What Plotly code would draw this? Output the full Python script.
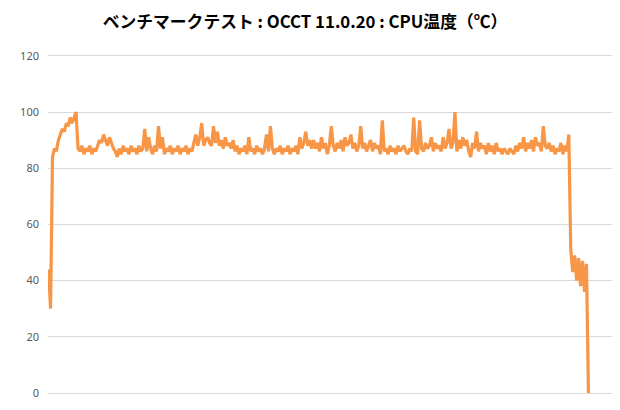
import plotly.graph_objects as go

# CPU temperature samples (deg C), one sample per step
startup = [44, 30, 84, 87, 86, 90, 92, 94, 93, 96, 95, 98, 96, 98, 100]
load = [
    87, 86, 88, 85, 87, 86, 88, 85, 87, 86,
    88, 90, 89, 92, 90, 88, 91, 89, 87, 86,
    84, 87, 85, 88, 86, 87, 85, 88, 86, 87,
    85, 88, 86, 87, 94, 86, 91, 87, 85, 88,
    86, 95, 87, 91, 85, 87, 86, 88, 85, 87,
    86, 88, 85, 87, 86, 88, 85, 87, 86, 89,
    92, 88, 91, 96, 88, 90, 91, 89, 88, 95,
    89, 93, 88, 90, 87, 91, 88, 89, 87, 90,
    86, 88, 85, 87, 86, 88, 85, 91, 86, 87,
    85, 88, 86, 87, 85, 87, 92, 86, 95, 87,
    85, 87, 86, 88, 85, 87, 86, 88, 85, 87,
    86, 88, 85, 91, 87, 89, 93, 88, 90, 87,
    90, 87, 89, 86, 91, 87, 89, 85, 88, 95,
    88, 86, 89, 87, 90, 86, 91, 88, 89, 92,
    87, 89, 86, 88, 95, 87, 89, 86, 88, 90,
    86, 89, 87, 88, 85, 97, 86, 87, 85, 88,
    86, 87, 85, 88, 86, 87, 88, 86, 85, 87,
    86, 98, 86, 85, 97, 87, 86, 89, 87, 88,
    91, 86, 89, 87, 88, 86, 91, 87, 89, 94,
    87, 89, 100, 86, 90, 87, 91, 88, 90, 86,
    84, 89, 87, 93, 86, 89, 87, 88, 85, 89,
    86, 88, 85, 89, 86, 87, 85, 87, 86, 85,
    87, 86, 85, 88, 86, 89, 87, 91, 86, 89,
    87, 90, 86, 91, 88, 89, 86, 95, 88, 87,
    89, 86, 88, 85, 87, 86, 89, 85, 88, 86,
    92,
]
cooldown = [51, 43, 49, 40, 48, 38, 47, 36, 46, 0]

temps = startup + load + cooldown
samples = list(range(len(temps)))

y_ticks = [0, 20, 40, 60, 80, 100, 120]

ORANGE = '#F79646'
GRID = '#D9D9D9'

fig = go.Figure(go.Scatter(
    x=samples, y=temps,
    mode='lines',
    line=dict(color=ORANGE, width=3.2),
    hoverinfo='skip',
))

# page body has an 8px offset, margins are set with that in mind
fig.update_layout(
    width=620, height=410,
    margin=dict(l=30, r=16, t=45, b=25),
    paper_bgcolor='white', plot_bgcolor='white',
    showlegend=False,
    title=dict(
        text='<b>ベンチマークテスト : OCCT 11.0.20 : CPU温度（℃）</b>',
        x=0.479, xanchor='center', y=0.966, yanchor='middle',
        font=dict(family='Noto Sans CJK JP', size=16.8, color='#000000'),
    ),
    font=dict(family='Noto Sans, DejaVu Sans', size=11, color='#595959'),
)
fig.update_xaxes(
    range=[-0.3, 287], showgrid=False, showticklabels=False,
    zeroline=False, showline=False, ticks='',
)
fig.update_yaxes(
    range=[0, 121], tickvals=y_ticks,
    showgrid=True, gridcolor=GRID, gridwidth=1,
    zeroline=True, zerolinecolor=GRID, zerolinewidth=1,
    showline=False, ticks='', ticklabelstandoff=8,
    tickfont=dict(size=11, color='#595959'),
)

fig.write_html('out.html')
